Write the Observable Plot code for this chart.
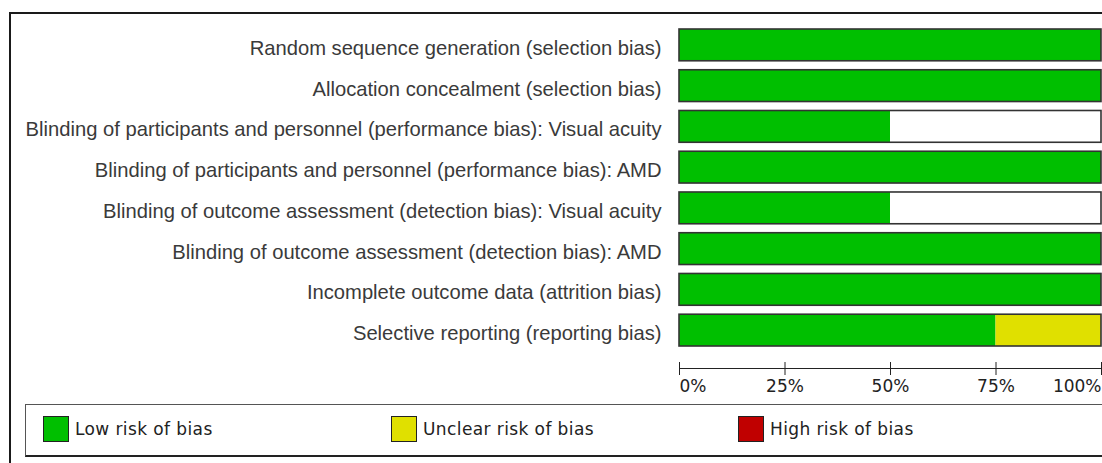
<!DOCTYPE html>
<html>
<head>
<meta charset="utf-8">
<script src="https://cdn.jsdelivr.net/npm/d3@7"></script>
<script src="https://cdn.jsdelivr.net/npm/@observablehq/plot@0.6"></script>
<style>
  html, body { margin: 0; padding: 0; background: #fff; }
  #wrap { position: relative; width: 1102px; height: 463px; overflow: hidden; }
  #outer { position: absolute; left: 9px; top: 12px; width: 1200px; height: 600px;
           border-top: 2px solid #1a1a1a; border-left: 2px solid #1a1a1a; }
  #chart { position: absolute; left: 0; top: 0; }
  #legend { position: absolute; left: 25px; top: 404px; width: 1200px; height: 50px;
            border: 1px solid #555; border-bottom: 2px solid #222; }
  .item { position: absolute; top: 11px; height: 26px; display: flex; align-items: center;
          font-family: "DejaVu Sans", sans-serif; font-size: 17px; color: #222; letter-spacing: 0.4px; }
  .sw { width: 24px; height: 24px; border: 1.5px solid #222; margin-right: 6px; }
</style>
</head>
<body>
<div id="wrap">
  <div id="outer"></div>
  <div id="chart"></div>
  <div id="legend"></div>
</div>
<script>
const categories = [
  "Random sequence generation (selection bias)",
  "Allocation concealment (selection bias)",
  "Blinding of participants and personnel (performance bias): Visual acuity",
  "Blinding of participants and personnel (performance bias): AMD",
  "Blinding of outcome assessment (detection bias): Visual acuity",
  "Blinding of outcome assessment (detection bias): AMD",
  "Incomplete outcome data (attrition bias)",
  "Selective reporting (reporting bias)"
];
const lowRisk     = [100, 100, 50, 100, 50, 100, 100, 75];
const unclearRisk = [0, 0, 0, 0, 0, 0, 0, 25];
const highRisk    = [0, 0, 0, 0, 0, 0, 0, 0];
const levels = ["Low risk of bias", "Unclear risk of bias", "High risk of bias", "Not assessed"];
const levelColors = ["#00bf00", "#e0e000", "#c00000", "#ffffff"];
const legendLevels = ["Low risk of bias", "Unclear risk of bias", "High risk of bias"];
const tickValues = [0, 25, 50, 75, 100];

const rows = [];
categories.forEach((c, i) => {
  const blank = 100 - lowRisk[i] - unclearRisk[i] - highRisk[i];
  rows.push({cat: c, level: levels[0], value: lowRisk[i]});
  rows.push({cat: c, level: levels[1], value: unclearRisk[i]});
  rows.push({cat: c, level: levels[2], value: highRisk[i]});
  rows.push({cat: c, level: levels[3], value: blank});
});
const totals = categories.map((c, i) => {
  const blank = 100 - lowRisk[i] - unclearRisk[i] - highRisk[i];
  return {cat: c, total: lowRisk[i] + unclearRisk[i] + highRisk[i] + blank};
});

const tickFont = {fontFamily: "DejaVu Sans, sans-serif", fontSize: 17, fill: "#222", frameAnchor: "bottom", dy: 18, lineAnchor: "middle"};

const chart = Plot.plot({
  width: 1102,
  height: 404,
  marginLeft: 679,
  marginRight: 1,
  marginTop: 0,
  marginBottom: 36,
  style: {background: "transparent", overflow: "visible"},
  x: {domain: [0, 100], axis: null},
  y: {domain: categories, range: [29, 346], paddingInner: 0.22, paddingOuter: 0, round: false, axis: null},
  color: {domain: levels, range: levelColors},
  marks: [
    Plot.barX(rows, {x: "value", y: "cat", fill: "level", order: levels}),
    Plot.barX(totals, {x1: 0, x2: "total", y: "cat", fill: "none", stroke: "#333", strokeWidth: 1.6}),
    Plot.axisY({label: null, tickSize: 0, tickPadding: 18, dy: 3, fontSize: 20.2, fontFamily: "Liberation Sans, Arial, sans-serif", color: "#3a3a3a", textAnchor: "end"}),
    Plot.frame({anchor: "bottom", stroke: "#222"}),
    Plot.axisX({label: null, ticks: tickValues, tickSize: 13, dy: -6, tickFormat: () => "", stroke: "#222"}),
    Plot.text(tickValues.slice(0, 1), {x: d => d, text: d => d + "%", textAnchor: "start", ...tickFont}),
    Plot.text(tickValues.slice(1, -1), {x: d => d, text: d => d + "%", textAnchor: "middle", ...tickFont}),
    Plot.text(tickValues.slice(-1), {x: d => d, text: d => d + "%", textAnchor: "end", ...tickFont})
  ]
});
document.getElementById("chart").appendChild(chart);

const legendX = [17, 365, 712];
const legend = document.getElementById("legend");
legendLevels.forEach((lv, i) => {
  const item = document.createElement("div");
  item.className = "item";
  item.style.left = legendX[i] + "px";
  const sw = document.createElement("div");
  sw.className = "sw";
  sw.style.background = levelColors[levels.indexOf(lv)];
  item.appendChild(sw);
  const t = document.createElement("span");
  t.textContent = lv;
  item.appendChild(t);
  legend.appendChild(item);
});
</script>
</body>
</html>
